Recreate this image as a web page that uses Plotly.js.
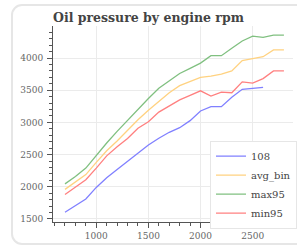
<!DOCTYPE html>
<html>
<head>
<meta charset="utf-8">
<script src="https://cdn.plot.ly/plotly-3.0.1.min.js"></script>
<style>
  html, body { margin: 0; padding: 0; background: #ffffff; overflow: hidden; }
  #card { position: absolute; left: 11px; top: 4px; width: 300px; height: 241px;
          border: 2px solid #e6e6e6; border-radius: 11px; box-sizing: border-box; background: #fff; }
  #chart { position: absolute; left: 0; top: 0; width: 297px; height: 249px; }
</style>
</head>
<body>
<div id="card"></div>
<div id="chart"></div>
<script>
const rpm = [700, 800, 900, 1000, 1100, 1200, 1300, 1400, 1500, 1600, 1700, 1800, 1900, 2000, 2100, 2200, 2300, 2400, 2500, 2600, 2700, 2800];
const rpm108 = [700, 800, 900, 1000, 1100, 1200, 1300, 1400, 1500, 1600, 1700, 1800, 1900, 2000, 2100, 2200, 2300, 2400, 2500, 2600];
const s108 = [1604, 1707, 1810, 1990, 2140, 2270, 2400, 2525, 2649, 2753, 2846, 2918, 3027, 3177, 3244, 3244, 3390, 3514, 3534, 3545];
const avgBin = [1960, 2070, 2190, 2380, 2560, 2710, 2880, 3040, 3190, 3330, 3460, 3570, 3640, 3700, 3720, 3750, 3800, 3960, 3990, 4020, 4125, 4125];
const max95 = [2045, 2160, 2290, 2490, 2680, 2860, 3035, 3200, 3370, 3530, 3650, 3760, 3840, 3920, 4036, 4036, 4150, 4265, 4340, 4320, 4355, 4355];
const min95 = [1880, 1990, 2110, 2290, 2480, 2620, 2750, 2910, 3010, 3160, 3260, 3350, 3420, 3490, 3410, 3470, 3460, 3630, 3610, 3680, 3800, 3800];
const xTicks = [1000, 1500, 2000, 2500];
const yTicks = [1500, 2000, 2500, 3000, 3500, 4000];

const mk = (x, y, name, color) => ({
  x: x, y: y, name: name, type: 'scatter', mode: 'lines',
  line: { color: color, width: 1.3 }
});

const data = [
  mk(rpm108, s108, '108', '#8080ff'),
  mk(rpm, avgBin, 'avg_bin', '#ffd280'),
  mk(rpm, max95, 'max95', '#80c080'),
  mk(rpm, min95, 'min95', '#ff8080')
];

const axisCommon = {
  showline: true, linecolor: '#555', linewidth: 1,
  ticks: 'outside', ticklen: 5, tickcolor: '#555', tickwidth: 1,
  showgrid: true, gridcolor: '#ebebeb', gridwidth: 1,
  zeroline: false,
  tickfont: { family: 'DejaVu Serif', size: 9, color: '#666' },
  minor: { dtick: 100, ticks: 'outside', ticklen: 3, tickcolor: '#555', showgrid: false }
};

const layout = {
  width: 297, height: 249,
  margin: { l: 53, r: 0, t: 26, b: 27 },
  paper_bgcolor: 'rgba(0,0,0,0)',
  plot_bgcolor: 'rgba(0,0,0,0)',
  title: {
    text: '<b>Oil pressure by engine rpm</b>',
    font: { family: 'DejaVu Serif', size: 12.5, color: '#444' },
    x: 0, xanchor: 'left', xref: 'paper',
    y: 1 - 18 / 249, yanchor: 'middle', yref: 'container'
  },
  xaxis: Object.assign({}, axisCommon, {
    range: [585, 2887], tickvals: xTicks, ticktext: xTicks.map(String)
  }),
  yaxis: Object.assign({}, axisCommon, {
    range: [1453, 4497], tickvals: yTicks, ticktext: yTicks.map(String), ticklabelstandoff: 2
  }),
  showlegend: true,
  legend: {
    x: 0.655, y: 0.415, xanchor: 'left', yanchor: 'top',
    bgcolor: '#ffffff', bordercolor: '#e6e6e6', borderwidth: 1,
    font: { family: 'DejaVu Serif', size: 10, color: '#444' }
  }
};

Plotly.newPlot('chart', data, layout, { displayModeBar: false, staticPlot: true });
</script>
</body>
</html>
